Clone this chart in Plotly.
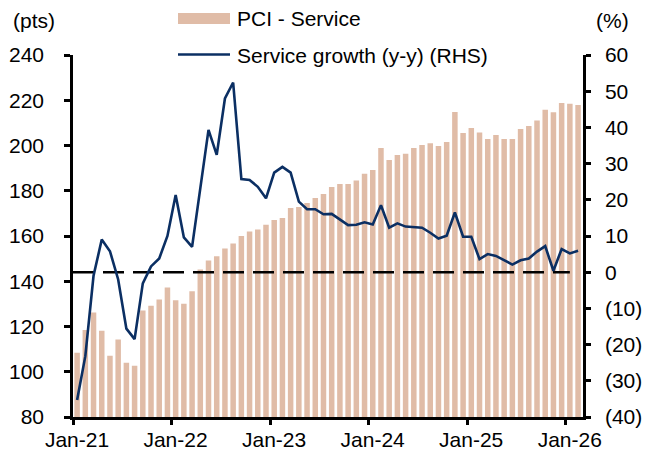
import pandas as pd
import plotly.graph_objects as go

# Monthly periods, Jan-2021 .. Feb-2026
months = pd.date_range("2021-01-01", "2026-02-01", freq="MS")

# PCI - Service index (pts, left axis)
pci_service = [
    108.4, 118.5, 126.2, 118.1, 107.1, 114.2, 104.0, 102.7, 127.1, 129.2, 131.9, 137.2,
    131.6, 130.1, 135.6, 145.2, 149.2, 151.0, 154.5, 156.7, 160.0, 162.0, 162.9, 165.0,
    167.1, 168.0, 172.4, 172.8, 174.6, 176.8, 178.6, 181.7, 183.0, 183.0, 184.5, 187.5,
    189.2, 198.9, 193.6, 195.8, 196.3, 198.9, 200.2, 201.0, 199.8, 201.5, 214.8, 205.5,
    207.7, 205.8, 202.9, 204.6, 202.9, 202.9, 207.3, 208.6, 211.0, 215.8, 214.7, 218.8,
    218.5, 217.9,
]

# Service growth y-y (%, right axis)
service_growth = [
    -35.3, -23.2, -1.0, 9.0, 5.8, -2.0, -15.6, -18.5, -3.1, 1.6, 3.8, 10.0,
    21.3, 9.6, 7.0, 23.0, 39.3, 32.4, 48.0, 52.4, 25.7, 25.5, 23.6, 20.4,
    27.5, 29.1, 27.5, 19.5, 17.4, 17.4, 16.0, 16.1, 14.6, 13.0, 13.1, 13.8,
    13.2, 18.5, 12.3, 13.5, 12.6, 12.5, 12.3, 10.9, 9.3, 10.1, 16.5, 9.8,
    9.8, 3.6, 5.0, 4.5, 3.3, 2.1, 3.3, 3.8, 5.7, 7.2, 0.4, 6.4,
    5.2, 5.9,
]

left_ticks = [80, 100, 120, 140, 160, 180, 200, 220, 240]
right_ticks = [-40, -30, -20, -10, 0, 10, 20, 30, 40, 50, 60]
right_ticktext = [f"({-v})" if v < 0 else str(v) for v in right_ticks]

BAR_COLOR = "#E0BCA7"
LINE_COLOR = "#0B2F63"
FONT = "Liberation Sans, Arial, sans-serif"
FS = 21

W, H = 656, 455
ML, MR, MT, MB = 73, 73, 55, 38
PW, PH = W - ML - MR, H - MT - MB

idx = list(range(len(months)))
jan_pos = [i - 0.5 for i, m in enumerate(months) if m.month == 1]
jan_text = [m.strftime("%b-%y") for m in months if m.month == 1]

fig = go.Figure()
fig.add_trace(go.Bar(
    x=idx, y=pci_service, name="PCI - Service",
    marker=dict(color=BAR_COLOR, line=dict(width=0)),
    yaxis="y", showlegend=False,
))
# zero reference on the growth axis
fig.add_trace(go.Scatter(
    x=[-0.5, jan_pos[-1] + 0.5], y=[0, 0], mode="lines",
    line=dict(color="black", width=2.5, dash="21px,9px"),
    yaxis="y2", showlegend=False, hoverinfo="skip",
))
fig.add_trace(go.Scatter(
    x=idx, y=service_growth, name="Service growth (y-y) (RHS)", mode="lines",
    line=dict(color=LINE_COLOR, width=2.6),
    yaxis="y2", showlegend=False,
))


def px_x(p):
    return (p - ML) / PW


def px_y(p):
    return (H - MB - p) / PH


# legend drawn at fixed pixel spots above the plot
shapes = [
    dict(type="rect", xref="paper", yref="paper",
         x0=px_x(178), x1=px_x(230), y0=px_y(24), y1=px_y(13),
         fillcolor=BAR_COLOR, line=dict(width=0)),
    dict(type="line", xref="paper", yref="paper",
         x0=px_x(178), x1=px_x(230), y0=px_y(54.5), y1=px_y(54.5),
         line=dict(color=LINE_COLOR, width=2.6)),
]
annotations = [
    dict(text="PCI - Service", x=px_x(235), y=px_y(18), xanchor="left", yanchor="middle"),
    dict(text="Service growth (y-y) (RHS)", x=px_x(235), y=px_y(55), xanchor="left", yanchor="middle"),
    dict(text="(pts)", x=px_x(11), y=px_y(21), xanchor="left", yanchor="middle"),
    dict(text="(%)", x=px_x(594), y=px_y(21), xanchor="left", yanchor="middle"),
]
for a in annotations:
    a.update(xref="paper", yref="paper", showarrow=False,
             font=dict(family=FONT, size=FS, color="black"))

fig.update_layout(
    width=W, height=H,
    margin=dict(l=ML, r=MR, t=MT, b=MB, pad=0),
    paper_bgcolor="white", plot_bgcolor="white",
    font=dict(family=FONT, size=FS, color="black"),
    bargap=0.33,
    showlegend=False,
    shapes=shapes,
    annotations=annotations,
    xaxis=dict(
        range=[-0.5, 61.6], showgrid=False, zeroline=False, automargin=False,
        showline=True, linecolor="black", linewidth=2.5,
        tickmode="array", tickvals=jan_pos, ticktext=jan_text,
        ticks="outside", ticklen=5, tickwidth=2.5, tickcolor="black",
        ticklabelshift=4, ticklabelstandoff=-3,
    ),
    yaxis=dict(
        range=[80, 240], showgrid=False, zeroline=False, automargin=False,
        showline=True, linecolor="black", linewidth=2.5,
        tickmode="array", tickvals=left_ticks,
        ticks="outside", ticklen=6, tickwidth=2.5, tickcolor="black",
        ticklabelstandoff=16,
    ),
    yaxis2=dict(
        range=[-40, 60], overlaying="y", side="right", anchor="x",
        showgrid=False, zeroline=False, automargin=False,
        showline=True, linecolor="black", linewidth=2.5,
        tickmode="array", tickvals=right_ticks, ticktext=right_ticktext,
        ticks="outside", ticklen=5, tickwidth=2.5, tickcolor="black",
        ticklabelstandoff=10,
    ),
)

fig.write_html("out.html")
